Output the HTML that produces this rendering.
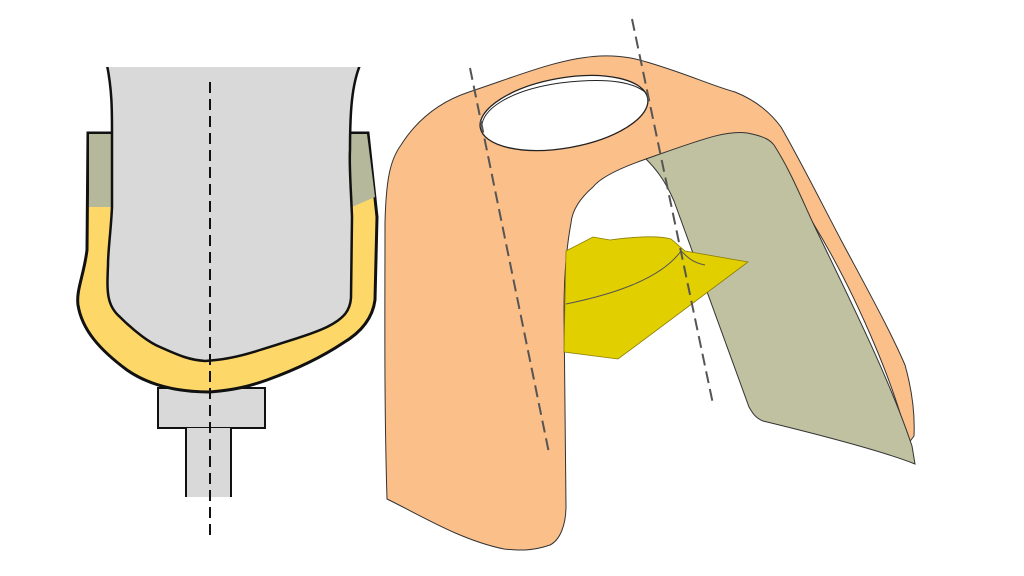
<!DOCTYPE html>
<html><head><meta charset="utf-8"><style>html,body{margin:0;padding:0;background:#fff}svg{display:block}</style></head>
<body>
<svg width="1024" height="576" viewBox="0 0 1024 576" xmlns="http://www.w3.org/2000/svg">
<!-- left figure -->
<rect x="158" y="388" width="107" height="40" fill="#d9d9d9" stroke="#111" stroke-width="2"/>
<rect x="186" y="428" width="45" height="69" fill="#d9d9d9"/>
<line x1="186" y1="428" x2="186" y2="497" stroke="#111" stroke-width="2"/>
<line x1="231" y1="428" x2="231" y2="497" stroke="#111" stroke-width="2"/>
<!-- socket outer -->
<path d="M88,133 L87,250 C84,275 76,290 78,305 C82,330 100,350 127,370 C150,386 180,392 210,392 C235,390 250,386 267,380 C300,368 325,355 343,343 C365,330 373,315 375,300 L377,217 L368,133 Z" fill="#fdd868" stroke="#111" stroke-width="3"/>
<path d="M89,134 L89,207 L112,207 L112,134 Z" fill="#b5b89a"/>
<path d="M367,134 L375,197 L352,207 L350,134 Z" fill="#b5b89a"/>
<!-- limb -->
<path d="M107,65 C112,90 112,110 112,133 L112,207 C111,230 108,250 108,265 C107,290 106,305 120,317 C135,332 150,343 160,347 C180,356 190,360 205,361 C225,360 245,355 260,350 C285,342 310,335 327,327 C345,318 350,310 351,298 L352,217 C351,190 349,165 350,150 C350,110 352,85 360,65 Z" fill="#d9d9d9" stroke="#111" stroke-width="2.5"/>
<rect x="100" y="58" width="270" height="9" fill="#fff"/>
<line x1="210" y1="82" x2="210" y2="535" stroke="#111" stroke-width="2" stroke-dasharray="11,6"/>
<!-- right figure -->
<path d="M387,499 C384,400 385,300 385,223 C386,180 390,160 401,145 C420,115 445,100 469,92 C520,75 560,58 600,56 C625,55 640,60 650,63 C690,75 710,85 735,92 C755,100 770,112 781,127 C800,160 820,200 841,240 C865,285 890,330 905,365 C912,390 915,415 914,436 L908,444 C900,400 860,300 813,223 L752,134 C700,140 670,152 646,159 C620,168 600,178 593,187 C578,200 572,212 571,223 C566,250 564,280 564,311 L566,506 C566,525 560,540 550,545 C530,552 515,550 504,549 C460,540 420,515 387,499 Z" fill="#fbbf8a" stroke="#333" stroke-width="1"/>
<path d="M646,159 C700,140 730,128 752,134 C765,137 770,140 774,145 C790,170 800,195 813,223 C850,300 890,380 912,446 L915,464 C880,450 800,430 763,421 C755,418 752,412 749,407 L674,201 C665,180 655,168 646,159 Z" fill="#bfc1a0" stroke="#333" stroke-width="1"/>
<path d="M593,237 L610,240 C640,236 660,236 671,239 L685,251 L748,262 L618,359 L564,352 L566,251 Z" fill="#e2cf00" stroke="#8a7d00" stroke-width="0.8"/>
<path d="M566,304 C610,295 660,280 681,251 C686,255 690,262 705,265" fill="none" stroke="#555" stroke-width="1"/>
<ellipse cx="564" cy="113" rx="85" ry="35" transform="rotate(-10 564 113)" fill="#fff" stroke="#222" stroke-width="1.3"/>
<path d="M482,128 C480,110 510,90 560,83 C600,78 630,80 645,92" fill="none" stroke="#222" stroke-width="1"/>
<line x1="470" y1="68" x2="549" y2="453" stroke="#555" stroke-width="2" stroke-dasharray="12,6"/>
<line x1="632" y1="19" x2="713" y2="404" stroke="#555" stroke-width="2" stroke-dasharray="12,6"/>
</svg>
</body></html>
